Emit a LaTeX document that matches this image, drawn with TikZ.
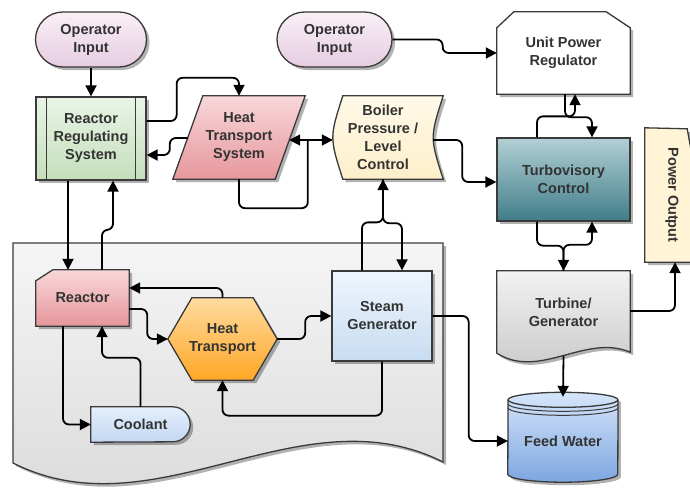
\documentclass[tikz,border=0pt]{standalone}
\usepackage{fontspec}
\setmainfont{Liberation Sans}
\usetikzlibrary{arrows.meta,calc,shadows,backgrounds}
\definecolor{txt}{HTML}{333333}
\definecolor{bord}{HTML}{3A3A3A}
\definecolor{opT}{HTML}{F9F0F6}\definecolor{opB}{HTML}{E6CCE1}
\definecolor{rrsT}{HTML}{E9F4E6}\definecolor{rrsB}{HTML}{C4DFBB}
\definecolor{pinkT}{HTML}{F8D7DA}\definecolor{pinkB}{HTML}{E6979B}
\definecolor{blrT}{HTML}{FFF9E8}\definecolor{blrB}{HTML}{FCEFC9}
\definecolor{tcT}{HTML}{B3D0D6}\definecolor{tcB}{HTML}{3F7D89}
\definecolor{pwrF}{HTML}{FFF4D6}
\definecolor{tgT}{HTML}{F2F2F2}\definecolor{tgB}{HTML}{C6C6C6}
\definecolor{fwT}{HTML}{D6E6FB}\definecolor{fwB}{HTML}{7DA6E0}
\definecolor{sgT}{HTML}{EEF5FD}\definecolor{sgB}{HTML}{C8DCF1}
\definecolor{coolT}{HTML}{E5EFFC}\definecolor{coolB}{HTML}{C3D7F3}
\definecolor{htT}{HTML}{FFDB9E}\definecolor{htB}{HTML}{FFA726}
\definecolor{contT}{HTML}{F5F5F5}\definecolor{contB}{HTML}{D8D8D8}
\tikzset{
  lbl/.style={font=\bfseries\fontsize{14.5}{18}\selectfont, text=txt, align=center, inner sep=0pt},
  nd/.style 2 args={lbl, minimum width=#1, minimum height=#2},
  shd/.style={drop shadow={shadow xshift=3pt, shadow yshift=-3pt, opacity=0.3, fill=black}},
  brd/.style={draw=bord, line width=1.3pt},
  grad/.style 2 args={top color=#1, bottom color=#2},
  conn/.style={draw=black, line width=1.8pt, rounded corners=6pt, -{Triangle[length=11pt,width=11pt]}},
  plain/.style={draw=black, line width=1.8pt, rounded corners=6pt},
  dbl/.style={draw=black, line width=1.8pt, {Triangle[length=11pt,width=11pt]}-{Triangle[length=11pt,width=11pt]}}
}
\begin{document}
\begin{tikzpicture}[x=1pt,y=-1pt]
\clip (0,0) rectangle (690,488);

% ---------- nodes ----------
\node[nd={111}{55}, brd, shd, grad={opT}{opB}, rounded corners=27.5pt] (opL) at (91,39.5) {Operator\\Input};
\node[nd={115}{55}, brd, shd, grad={opT}{opB}, rounded corners=27.5pt] (opR) at (334.5,39.5) {Operator\\Input};
\node[nd={110}{83}, brd, shd, grad={rrsT}{rrsB}] (rrs) at (91,138.5) {Reactor\\Regulating\\System};
\draw[brd] ($(rrs.north west)+(11,0)$) -- ($(rrs.south west)+(11,0)$);
\draw[brd] ($(rrs.north east)+(-11,0)$) -- ($(rrs.south east)+(-11,0)$);
\node[nd={132}{83}] (hts) at (239,137.5) {Heat\\Transport\\System};
\node[nd={100}{83}] (blr) at (383,137.5) {Boiler\\Pressure /\\Level\\Control};
\node[nd={133}{82}] (upr) at (563.5,53) {Unit Power\\Regulator};
\node[nd={133}{83}, brd, shd, grad={tcT}{tcB}] (tc) at (563.5,179.5) {Turbovisory\\Control};
\node[nd={54}{134}] (pwr) at (672,195) {\rotatebox{-90}{Power Output}};
\node[nd={93}{56}] (reactor) at (82.5,298) {Reactor};
\node[nd={109}{82}] (ht) at (222.5,339) {Heat\\Transport};
\node[nd={100}{90}, brd, shd, grad={sgT}{sgB}] (sg) at (382,316) {Steam\\Generator};
\node[nd={99}{35}] (cool) at (140.5,424.5) {Coolant};
\node[nd={133}{82}] (tg) at (563.5,312) {Turbine/\\Generator};
\node[nd={110}{82}] (fw) at (563,441) {Feed Water};

% ---------- custom shapes (behind the texts) ----------
\begin{pgfonlayer}{background}
\fill[white] (0,0) rectangle (690,488);
\path[brd, shd, grad={contT}{contB}] (13,243) -- (443,243) -- (443,462)
  .. controls (300,390) and (156,535) .. (13,463) -- cycle;
\path[brd, shd, grad={pinkT}{pinkB}] ($(hts.north west)+(30,0)$) -- (hts.north east)
  -- ($(hts.south east)+(-30,0)$) -- (hts.south west) -- cycle;
\path[brd, shd, grad={blrT}{blrB}] ($(blr.north west)+(10,0)$) -- ($(blr.north east)+(10,0)$)
  .. controls ($(blr.east)+(-3.3,0)$) .. ($(blr.south east)+(10,0)$)
  -- ($(blr.south west)+(10,0)$)
  .. controls ($(blr.west)+(-3.3,0)$) .. ($(blr.north west)+(10,0)$) -- cycle;
\path[brd, shd, fill=white] (upr.south west) -- ($(upr.north west)+(0,16)$) -- ($(upr.north west)+(17,0)$)
  -- ($(upr.north east)+(-24,0)$) -- ($(upr.north east)+(0,16)$) -- (upr.south east) -- cycle;
\path[brd, shd, fill=pwrF] (pwr.north west) -- ($(pwr.north east)+(-12,1)$)
  -- ($(pwr.south east)+(12,0)$) -- (pwr.south west) -- cycle;
\path[brd, shd, grad={pinkT}{pinkB}] ($(reactor.north west)+(0,11)$) -- ($(reactor.north west)+(17,0)$)
  -- (reactor.north east) -- (reactor.south east) -- (reactor.south west) -- cycle;
\path[brd, shd, grad={htT}{htB}] (ht.west) -- ($(ht.north west)+(24,0)$) -- ($(ht.north east)+(-24,0)$)
  -- (ht.east) -- ($(ht.south east)+(-24,0)$) -- ($(ht.south west)+(24,0)$) -- cycle;
\path[brd, shd, grad={tgT}{tgB}] (tg.north west) -- (tg.north east) -- ($(tg.south east)+(0,-1)$)
  .. controls ($(tg.south east)+(-45,-20)$) and ($(tg.south west)+(43,27)$) .. (tg.south west) -- cycle;
\path[brd, shd, grad={fwT}{fwB}] ($(fw.north)+(-55,0)$) -- ($(fw.south west)+(0,-8)$)
  arc[start angle=180, end angle=360, x radius=55pt, y radius=8pt]
  -- ($(fw.north)+(55,0)$) arc[start angle=0, end angle=180, x radius=55pt, y radius=7.5pt] -- cycle;
\draw[brd] ($(fw.north)+(-55,0)$) arc[start angle=180, end angle=360, x radius=55pt, y radius=7.5pt];
\draw[brd, line width=1pt] ($(fw.north)+(-55,4)$) arc[start angle=180, end angle=360, x radius=55pt, y radius=7.5pt];
\draw[brd, line width=1pt] ($(fw.north)+(-55,8)$) arc[start angle=180, end angle=360, x radius=55pt, y radius=7.5pt];
\path[brd, shd, grad={coolT}{coolB}] (cool.north west) -- ($(cool.north east)+(-17.5,0)$)
  arc[start angle=90, end angle=-90, radius=17.5pt] -- (cool.south west) -- cycle;
\end{pgfonlayer}

% ---------- connectors ----------
\draw[conn] (opL.south) -- (rrs.north);
\draw[conn] ($(rrs.east)+(0,-17.5)$) -- ++(30,0) |- ($(hts.north)+(0,-18)$) -- (hts.north);
\draw[conn] ($(hts.west)+(15,0.5)$) -- ++(-18,0) |- ($(rrs.east)+(0,16.5)$);
\draw[dbl] ($(hts.east)+(-16,2.5)$) -- ($(blr.west)+(0,2.5)$);
\draw[plain] (hts.south) -- ++(0,29) -| ($(blr.west)+(-25,2.5)$);
\draw[conn] ($(blr.east)+(0,2.5)$) -- ++(29,0) |- ($(tc.west)+(0,2.5)$);
\draw[conn] ($(sg.north)+(-20,0)$) -- ++(0,-48) -| (blr.south);
\draw[conn] (blr.south) -- ++(0,44) -| ($(sg.north)+(20,0)$);
\draw[conn] (opR.east) -- ++(50,0) |- (upr.west);
\draw[conn] ($(tc.north)+(-26.5,0)$) -- ++(0,-21) -| ($(upr.south)+(11.5,0)$);
\draw[conn] ($(upr.south)+(1.5,0)$) -- ++(0,23) -| ($(tc.north)+(28.5,0)$);
\draw[conn] ($(tc.south)+(-26.5,0)$) -- ++(0,24) -| (tg.north);
\draw[conn] (tg.north) -- ++(0,-26) -| ($(tc.south)+(28.5,0)$);
\draw[conn] ($(tg.east)+(0,-1)$) -| ($(pwr.south)+(3,0)$);
\draw[conn] ($(tg.south)+(0,3)$) -- ($(fw.north)+(0,-3)$);
\draw[conn] (sg.east) -- ++(36,0) |- (fw.west);
\draw[conn] ($(rrs.south)+(-23,0)$) -- ($(reactor.north)+(-14.5,0)$);
\draw[conn] ($(reactor.north)+(19.5,0)$) -- ++(0,-40) -| ($(rrs.south)+(22,0)$);
\draw[conn] (ht.north) |- ($(reactor.east)+(0,-10)$);
\draw[conn] ($(reactor.east)+(0,11)$) -- ++(18,0) |- (ht.west);
\draw[conn] (ht.east) -- ++(28,0) |- (sg.west);
\draw[conn] (sg.south) -- ++(0,54) -| (ht.south);
\draw[conn] ($(reactor.south)+(-19.5,0)$) |- (cool.west);
\draw[conn] (cool.north) -- ++(0,-49) -| ($(reactor.south)+(19.5,0)$);
\end{tikzpicture}
\end{document}
